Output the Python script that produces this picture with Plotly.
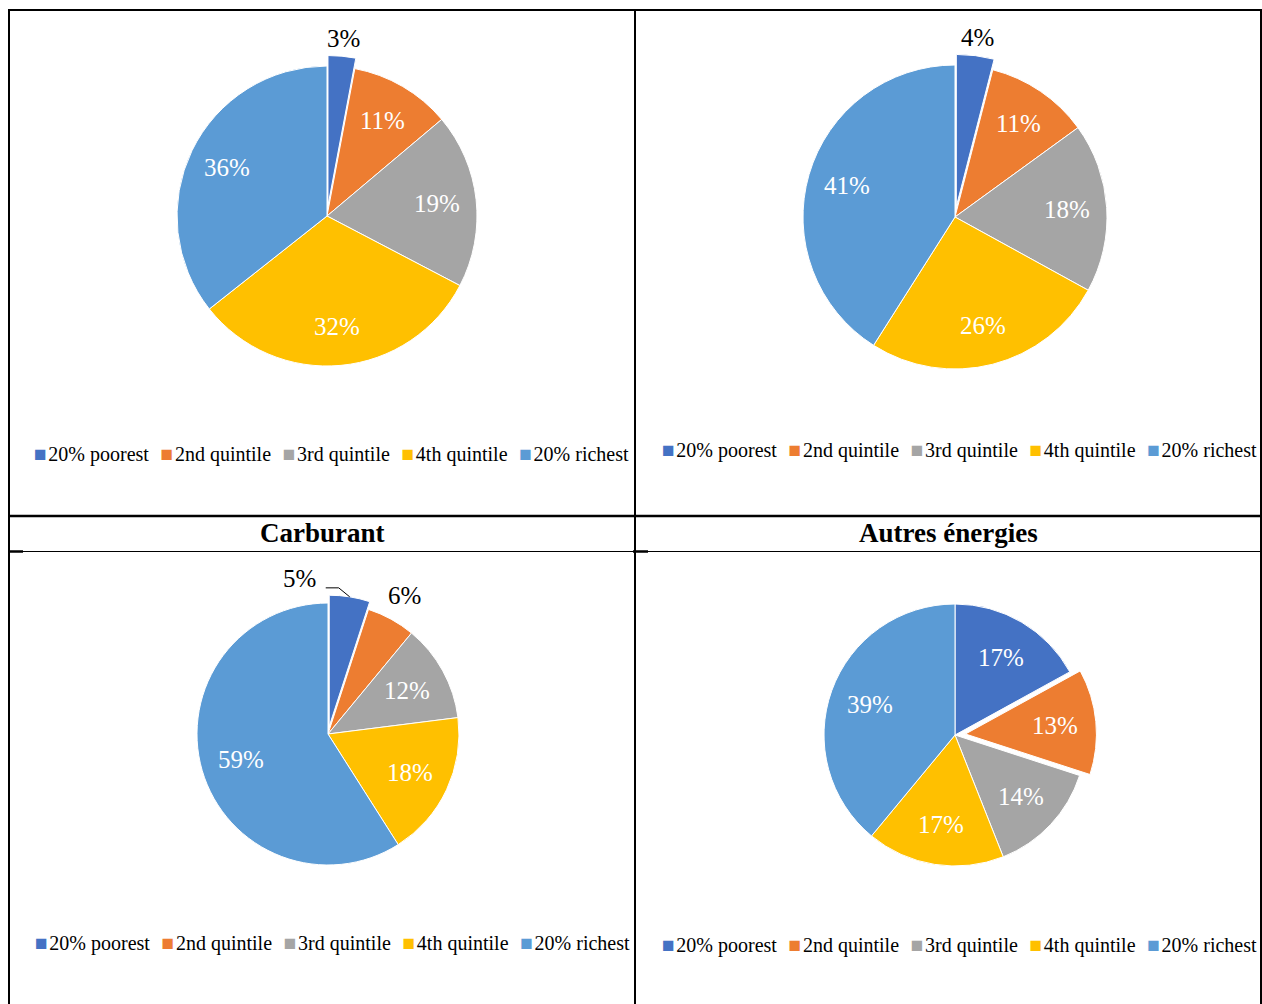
import math
import plotly.graph_objects as go

W, H = 1262, 1004

# Household quintiles and their colours
quintiles = ["20% poorest", "2nd quintile", "3rd quintile", "4th quintile", "20% richest"]
colors = ["#4472C4", "#ED7D31", "#A5A5A5", "#FFC000", "#5B9BD5"]

# Share of each quintile (%) in the four panels
shares_top_left = [3, 11, 19, 32, 36]
shares_top_right = [4, 11, 18, 26, 41]
shares_carburant = [5, 6, 12, 18, 59]
shares_autres = [17, 13, 14, 17, 39]

panel_titles = ["Carburant", "Autres énergies"]

FONT = "Liberation Serif"


def px(x):
    return x / W


def py(y):
    return 1 - y / H


fig = go.Figure()
annotations = []
shapes = []


def slice_point(values, i, cx, cy, dist):
    """Pixel position at distance `dist` from the centre, on the bisector of slice i."""
    total = sum(values)
    start = sum(values[:i]) / total * 360
    mid = math.radians(start + values[i] / total * 180)
    return cx + dist * math.sin(mid), cy - dist * math.cos(mid)


def add_pie(values, cx, cy, r, pulled, pull, label_frac, outside):
    pulls = [0.0] * len(values)
    pulls[pulled] = pull
    half = r * (1 + pull)
    fig.add_trace(go.Pie(
        labels=quintiles,
        values=values,
        sort=False,
        direction="clockwise",
        rotation=0,
        pull=pulls,
        marker=dict(colors=colors, line=dict(color="white", width=1)),
        textinfo="none",
        showlegend=False,
        hoverinfo="label+value",
        domain=dict(x=[px(cx - half), px(cx + half)], y=[py(cy + half), py(cy - half)]),
    ))
    for i, v in enumerate(values):
        if i in outside:
            continue
        dist = r * label_frac + r * pulls[i]
        x, y = slice_point(values, i, cx, cy, dist)
        annotations.append(dict(text=f"{v}%", x=px(x), y=py(y), xref="paper", yref="paper",
                                showarrow=False, xanchor="center", yanchor="middle",
                                font=dict(family=FONT, size=25, color="white")))


def outside_label(values, i, cx, cy, r, frac):
    x, y = slice_point(values, i, cx, cy, r * frac)
    annotations.append(dict(text=f"{values[i]}%", x=px(x), y=py(y), xref="paper", yref="paper",
                            showarrow=False, xanchor="center", yanchor="middle",
                            font=dict(family=FONT, size=25, color="black")))


add_pie(shares_top_left, 327, 216, 150, 0, 0.07, 0.74, [0])
outside_label(shares_top_left, 0, 327, 216, 150, 1.19)

add_pie(shares_top_right, 955, 217, 152, 0, 0.07, 0.74, [0])
outside_label(shares_top_right, 0, 955, 217, 152, 1.19)

add_pie(shares_carburant, 328, 734, 131, 0, 0.06, 0.69, [0, 1])
outside_label(shares_carburant, 1, 328, 734, 131, 1.21)
# 5% label moved to the left, with a leader line back to its slice
ex, ey = slice_point(shares_carburant, 0, 328, 734, 131 * 1.06)
shapes.append(dict(type="path", xref="paper", yref="paper",
                   path=f"M {px(ex)} {py(ey)} L {px(ex - 11)} {py(ey - 9)} L {px(ex - 24)} {py(ey - 9)}",
                   line=dict(color="black", width=1)))
annotations.append(dict(text=f"{shares_carburant[0]}%", x=px(ex - 32), y=py(ey - 18), xref="paper",
                        yref="paper", showarrow=False, xanchor="right", yanchor="middle",
                        font=dict(family=FONT, size=25, color="black")))

add_pie(shares_autres, 955, 735, 131, 1, 0.08, 0.69, [])


# Table grid
def hline(y, x0, x1, w):
    shapes.append(dict(type="line", xref="paper", yref="paper", x0=px(x0), x1=px(x1),
                       y0=py(y), y1=py(y), line=dict(color="black", width=w)))


def vline(x, y0, y1, w):
    shapes.append(dict(type="line", xref="paper", yref="paper", x0=px(x), x1=px(x),
                       y0=py(y0), y1=py(y1), line=dict(color="black", width=w)))


hline(10, 8, 1262, 2)
hline(516, 8, 1262, 2.5)
hline(551.5, 8, 1262, 1)
hline(551.5, 9, 23, 2.5)
hline(551.5, 633, 648, 2.5)
vline(9, 9, 1004, 2)
vline(635, 9, 1004, 2)
vline(1261, 9, 1004, 2)

for title, cx in zip(panel_titles, [322, 948]):
    annotations.append(dict(text=f"<b>{title}</b>", x=px(cx), y=py(533), xref="paper", yref="paper",
                            showarrow=False, font=dict(family=FONT, size=27, color="black"),
                            xanchor="center", yanchor="middle"))

# Legends below each pie
legend_text = "\u00a0\u00a0\u200a".join(
    f"<span style='color:{c};font-size:21px'>■</span>\u200a{q}" for q, c in zip(quintiles, colors)
)
for cx, cy in [(331, 454), (959, 450), (332, 943), (959, 945)]:
    annotations.append(dict(text=legend_text, x=px(cx), y=py(cy), xref="paper", yref="paper",
                            showarrow=False, font=dict(family=FONT, size=20, color="black"),
                            xanchor="center", yanchor="middle"))

fig.update_layout(
    width=W, height=H,
    margin=dict(l=0, r=0, t=0, b=0),
    paper_bgcolor="white",
    plot_bgcolor="white",
    shapes=shapes,
    annotations=annotations,
)

fig.write_html("out.html")
